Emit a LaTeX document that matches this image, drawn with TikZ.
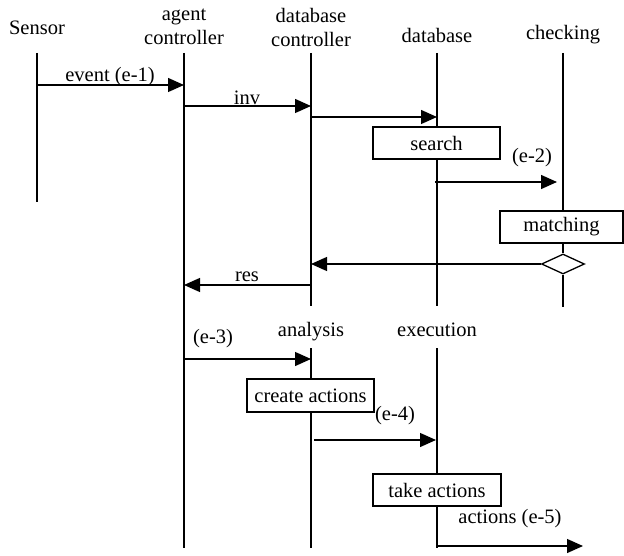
\documentclass[tikz,border=0pt]{standalone}
\usepackage{fontspec}
\setmainfont{Liberation Serif}
\usetikzlibrary{arrows.meta,shapes.geometric}
\begin{document}
\begin{tikzpicture}[x=1pt,y=-1pt,line width=1.3pt,
  lbl/.style={inner sep=0pt,font=\fontsize{20.5}{24}\selectfont},
  head/.style={lbl,align=center},
  actbox/.style={draw,line width=1.3pt,inner sep=0pt,font=\fontsize{20.5}{24}\selectfont,minimum height=32pt},
  decision/.style={diamond,draw,line width=1.3pt,inner sep=0pt,minimum width=43pt,minimum height=20pt},
  msg/.style={-{Triangle[length=16pt,width=14pt]}},
  life/.style={line width=1.3pt}]
\path[use as bounding box] (0,0) rectangle (624,556);

% heads
\node[head] (sen) at (37,28) {Sensor};
\node[head] (agc) at (184,27) {agent\\controller};
\node[head] (dbc) at (311,27) {database\\controller};
\node[head] (db) at (437,35) {database};
\node[head] (chk) at (563,35) {checking};
\node[head] (ana) at (311,332) {analysis};
\node[head] (exe) at (437,330) {execution};

% activity boxes
\node[actbox,minimum width=127pt] (search) at (436.5,143) {search};
\node[actbox,minimum width=123pt] (match) at (561.5,227) {matching};
\node[decision] (dia) at (563,264) {};
\node[actbox,minimum width=127pt,minimum height=33pt] (create) at (310.5,395.5) {create actions};
\node[actbox,minimum width=128pt] (take) at (437,490) {take actions};

% lifeline ends
\coordinate (sen0) at (37,53);  \coordinate (sen1) at (37,202);
\coordinate (agc0) at (184,53); \coordinate (agc1) at (184,548);
\coordinate (dbc0) at (311,53); \coordinate (dbc1) at (311,306);
\coordinate (db0) at (437,53);  \coordinate (db1) at (437,306);
\coordinate (chk0) at (563,53); \coordinate (chk1) at (563,307);
\coordinate (ana0) at (311,348); \coordinate (ana1) at (311,548);
\coordinate (exe0) at (437,348); \coordinate (exe1) at (437,548);

\draw[life] (sen0) -- (sen1);
\draw[life] (agc0) -- (agc1);
\draw[life] (dbc0) -- (dbc1);
\draw[life] (db0) -- (db0 |- search.north);
\draw[life] (db0 |- search.south) -- (db1);
\draw[life] (chk0) -- (chk0 |- match.north);
\draw[life] (chk0 |- match.south) -- (dia.north);
\draw[life] (dia.south) -- (chk1);
\draw[life] (ana0) -- (ana0 |- create.north);
\draw[life] (ana0 |- create.south) -- (ana1);
\draw[life] (exe0) -- (exe0 |- take.north);
\draw[life] (exe0 |- take.south) -- (exe1);

% message end points
\coordinate (m1a) at (37,85);   \coordinate (m1b) at (184,85);
\coordinate (m2a) at (184,106); \coordinate (m2b) at (311,106);
\coordinate (m3a) at (311,117); \coordinate (m3b) at (437,117);
\coordinate (m4a) at (435,182); \coordinate (m4b) at (557,182);
\coordinate (m5b) at (311,264);
\coordinate (m6a) at (311,285); \coordinate (m6b) at (184,285);
\coordinate (m7a) at (184,359); \coordinate (m7b) at (311,359);
\coordinate (m8a) at (314,440); \coordinate (m8b) at (436,440);
\coordinate (m9a) at (436,546); \coordinate (m9b) at (583,546);

\draw[msg] (m1a) -- (m1b);
\draw[msg] (m2a) -- (m2b);
\draw[msg] (m3a) -- (m3b);
\draw[msg] (m4a) -- (m4b);
\draw[msg] (dia.west) -- (m5b);
\draw[msg] (m6a) -- (m6b);
\draw[msg] (m7a) -- (m7b);
\draw[msg] (m8a) -- (m8b);
\draw[msg] (m9a) -- (m9b);

% message labels
\node[lbl] (l1) at (110,77) {event (e-1)};
\node[lbl] (l2) at (247,98) {inv};
\node[lbl] (l3) at (532,158) {(e-2)};
\node[lbl] (l4) at (247,277) {res};
\node[lbl] (l5) at (213,339) {(e-3)};
\node[lbl] (l6) at (395,416) {(e-4)};
\node[lbl] (l7) at (510,519) {actions (e-5)};
\end{tikzpicture}
\end{document}
